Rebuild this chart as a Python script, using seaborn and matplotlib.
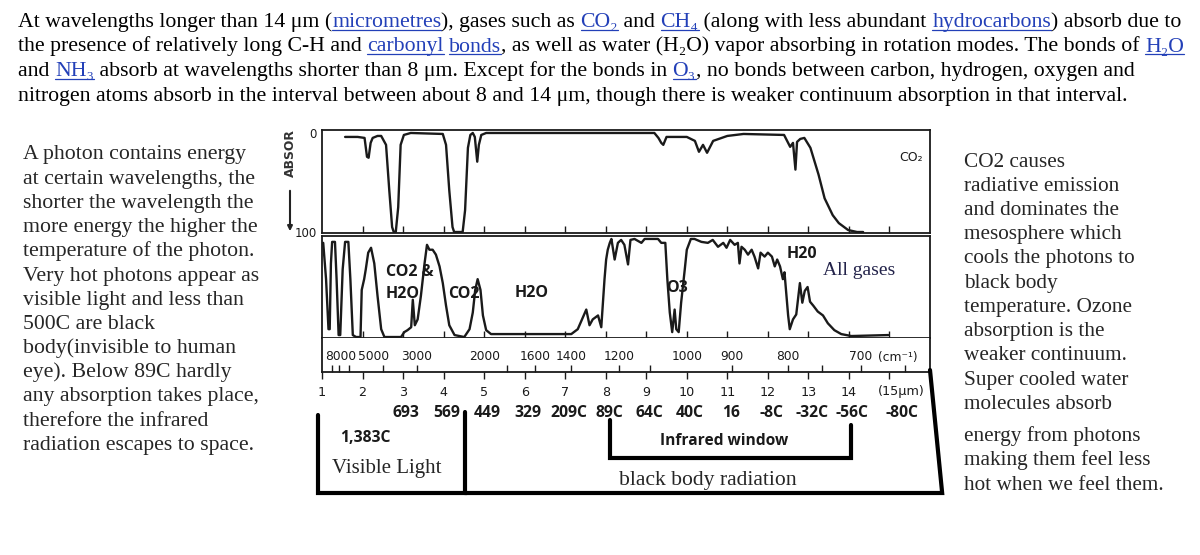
import matplotlib
matplotlib.use('Agg')
import matplotlib.pyplot as plt
import matplotlib.transforms as mtransforms
import seaborn as sns

# ---- values ---- #
# upper panel: CO2 absorption (%), wavelength in micrometres
co2_um = [1.57, 1.88, 2.05, 2.11, 2.15, 2.20, 2.25, 2.37, 2.46, 2.58, 2.66, 2.73, 2.77, 2.82, 2.88,
          2.94, 3.02, 3.19, 3.98, 4.06, 4.14, 4.22, 4.26, 4.47, 4.53, 4.60, 4.66, 4.72, 4.77, 4.83,
          4.87, 4.93, 5.05, 9.20, 9.30, 9.37, 9.42, 9.50, 10.0, 10.2, 10.3, 10.4, 10.5, 10.65, 11.0,
          11.4, 12.4, 12.55, 12.62, 12.68, 12.72, 12.8, 12.9, 13.05, 13.25, 13.4, 13.6, 13.75, 13.98,
          14.2, 14.35]
co2_abs = [4, 4, 5, 24, 25, 10, 5, 3, 3, 12, 58, 95, 100, 100, 75,
           12, 2, 0, 1, 12, 58, 95, 100, 100, 78, 15, 2, 0, 4, 29,
           12, 2, 0, 0, 5, 10, 12, 4, 4, 8, 19, 12, 20, 8, 3,
           1, 2, 14, 10, 37, 9, 6, 5, 15, 42, 66, 83, 91, 98,
           100, 100]

# lower panel: all gases
gas_um = [1.03, 1.10, 1.16, 1.19, 1.22, 1.25, 1.32, 1.36, 1.41, 1.45, 1.51, 1.57, 1.65, 1.70, 1.76,
          1.84, 1.95, 1.98, 2.04, 2.08, 2.14, 2.21, 2.29, 2.37, 2.46, 2.54, 2.95, 3.03, 3.11, 3.20,
          3.24, 3.29, 3.36, 3.44, 3.53, 3.59, 3.65, 3.73, 3.81, 3.90, 3.98, 4.06, 4.14, 4.27, 4.51,
          4.64, 4.72, 4.78, 4.84, 4.91, 4.97, 5.05, 5.17, 7.15, 7.31, 7.52, 7.60, 7.68, 7.81, 7.89,
          7.97, 8.01, 8.05, 8.10, 8.14, 8.22, 8.30, 8.38, 8.46, 8.55, 8.61, 8.71, 8.88, 8.96, 9.12,
          9.29, 9.37, 9.47, 9.52, 9.58, 9.64, 9.70, 9.74, 9.80, 9.86, 9.95, 10.0, 10.1, 10.19, 10.36,
          10.52, 10.64, 10.77, 10.9, 10.98, 11.07, 11.18, 11.26, 11.30, 11.35, 11.43, 11.51, 11.60,
          11.67, 11.76, 11.82, 11.92, 12.0, 12.1, 12.17, 12.23, 12.3, 12.37, 12.41, 12.46, 12.5,
          12.54, 12.62, 12.7, 12.79, 12.85, 12.91, 12.98, 13.04, 13.12, 13.23, 13.36, 13.48, 13.64,
          13.81, 14.06, 14.97]
gas_abs = [4, 41, 92, 92, 25, 3, 3, 41, 98, 98, 31, 3, 3, 41, 98,
           100, 100, 52, 41, 31, 14, 9, 25, 58, 92, 100, 100, 95, 93, 90,
           62, 88, 82, 58, 25, 6, 11, 11, 16, 28, 45, 68, 88, 98, 100,
           92, 75, 52, 41, 52, 78, 93, 97, 97, 92, 72, 88, 82, 78, 90,
           41, 21, 11, 4, 0, 21, 4, 1, 6, 26, 1, 0, 4, 0, 0,
           0, 4, 4, 41, 75, 95, 72, 92, 95, 65, 31, 11, 0, 0, 3,
           4, 1, 8, 4, 9, 1, 6, 4, 25, 8, 11, 16, 11,
           18, 30, 14, 18, 14, 18, 28, 21, 28, 41, 34, 58, 78,
           92, 82, 77, 45, 65, 53, 49, 64, 68, 74, 78, 86, 93,
           97, 99, 98]

um_ticks = list(range(1, 16))
um_labels = [str(i) for i in range(1, 15)] + ['(15\u00b5m)']
wn_ticks = [8000, 7000, 6000, 5000, 4000, 3000, 2500, 2000, 1800, 1600, 1400, 1200, 1100,
            1000, 900, 800, 750, 700, 650]
wn_labels = [8000, 5000, 3000, 2000, 1600, 1400, 1200, 1000, 900, 800, 700]
temp_um = list(range(3, 16))
temp_labels = ['693', '569', '449', '329', '209C', '89C', '64C', '40C', '16', '-8C', '-32C',
               '-56C', '-80C']

visible_span = [0.9, 4.52]
window_span = [8.1, 14.05]
blackbody_span = [4.52, 16.3]

top_lines = [
    [('At wavelengths longer than 14 \u03bcm (', 0), ('micrometres', 1), ('), gases such as ', 0),
     ('CO\u2082', 1), (' and ', 0), ('CH\u2084', 1), (' (along with less abundant ', 0),
     ('hydrocarbons', 1), (') absorb due to', 0)],
    [('the presence of relatively long C-H and ', 0), ('carbonyl', 1), (' ', 0), ('bonds', 1),
     (', as well as water (H\u2082O) vapor absorbing in rotation modes. The bonds of ', 0),
     ('H\u2082O', 1)],
    [('and ', 0), ('NH\u2083', 1), (' absorb at wavelengths shorter than 8 \u03bcm. Except for the bonds in ', 0),
     ('O\u2083', 1), (', no bonds between carbon, hydrogen, oxygen and', 0)],
    [('nitrogen atoms absorb in the interval between about 8 and 14 \u03bcm, though there is weaker '
      'continuum absorption in that interval.', 0)],
]
left_lines = ['A photon contains energy', 'at certain wavelengths, the', 'shorter the wavelength the',
              'more energy the higher the', 'temperature of the photon.', 'Very hot photons appear as',
              'visible light and less than', '500C are black', 'body(invisible to human',
              'eye). Below 89C hardly', 'any absorption takes place,', 'therefore the infrared',
              'radiation escapes to space.']
right_lines = ['CO2 causes', 'radiative emission', 'and dominates the', 'mesosphere which',
               'cools the photons to', 'black body', 'temperature. Ozone', 'absorption is the',
               'weaker continuum.', 'Super cooled water', 'molecules absorb', 'energy from photons',
               'making them feel less', 'hot when we feel them.']

# ---- style ---- #
sns.set_theme(style='white')
plt.rcParams['font.family'] = ['DejaVu Sans']
SERIF = ['Liberation Serif', 'DejaVu Serif']
BOLD = ['Open Sans', 'DejaVu Sans']
SCAN = ['DejaVu Sans']
INK = '#1a1a1a'
LINK = '#2340b8'
W, H = 1200, 555

fig = plt.figure(figsize=(W / 100, H / 100), dpi=100)
renderer = fig.canvas.get_renderer()


def px_axes(x0, y0, x1, y1):
    return fig.add_axes([x0 / W, 1 - y1 / H, (x1 - x0) / W, (y1 - y0) / H])


# overlay in pixel coordinates (y down) for the free text and brackets
ax_ann = px_axes(0, 0, W, H)
ax_ann.set_xlim(0, W)
ax_ann.set_ylim(H, 0)
ax_ann.set_autoscale_on(False)
ax_ann.axis('off')
ax_ann.set_zorder(10)


def raw_w(s, size, family, weight):
    t = ax_ann.text(0, 0, s, fontsize=size, family=family, weight=weight)
    w = t.get_window_extent(renderer).width
    t.remove()
    return w


def text_w(s, size, family, weight='normal'):
    if not s:
        return 0
    return raw_w(s + '|', size, family, weight) - raw_w('|', size, family, weight)


def fit(s, target, family, weight='normal'):
    return 20 * target / text_w(s, 20, family, weight)


# ---- paragraph at the top, with blue links ---- #
top_size = fit(''.join(s for s, _ in top_lines[0]), 1165, SERIF)
for i, line in enumerate(top_lines):
    base = 27 + i * 24.5
    prefix = ''
    for seg, link in line:
        x = 18 + text_w(prefix, top_size, SERIF)
        col = LINK if link else 'black'
        ax_ann.text(x, base, seg, fontsize=top_size, family=SERIF, color=col, va='baseline')
        if link:
            w = text_w(seg, top_size, SERIF)
            ax_ann.plot([x, x + w], [base + 2.5, base + 2.5], color=LINK, lw=0.9)
        prefix += seg

left_size = fit(left_lines[0], 222, SERIF)
for i, s in enumerate(left_lines):
    ax_ann.text(23, 159.5 + i * 24.2, s, fontsize=left_size, family=SERIF, va='baseline')

right_size = fit(right_lines[-1], 199, SERIF)
right_base = [166.7 + k * 24.2 for k in range(11)] + [441, 465.5, 490]
for s, b in zip(right_lines, right_base):
    ax_ann.text(964, b, s, fontsize=right_size, family=SERIF, va='baseline')

# ---- upper panel: CO2 ---- #
ax_top = px_axes(322, 130, 930, 233)
sns.lineplot(x=co2_um, y=co2_abs, ax=ax_top, color=INK, linewidth=1.7, estimator=None, sort=False)
ax_top.set_xlim(1, 16)
ax_top.set_ylim(101, -3)
ax_top.set_xticks(um_ticks[1:])
ax_top.set_xticklabels([])
ax_top.tick_params(axis='x', direction='in', length=5, width=1, bottom=True, color=INK)
ax_top.set_yticks([0, 100])
ax_top.set_yticklabels(['0', '100'])
ax_top.tick_params(axis='y', length=0, pad=4, labelsize=8.5, labelcolor=INK)
ax_top.text(15.25, 25, 'CO\u2082', fontsize=9, va='center', color=INK)

# ---- lower panel: all gases ---- #
ax_bot = px_axes(322, 236, 930, 338)
sns.lineplot(x=gas_um, y=gas_abs, ax=ax_bot, color=INK, linewidth=1.7, estimator=None, sort=False)
ax_bot.set_xlim(1, 16)
ax_bot.set_ylim(101, -3)
ax_bot.set_xticks(um_ticks[1:])
ax_bot.set_xticklabels([])
ax_bot.set_yticks([])
ax_bot.tick_params(axis='x', direction='in', length=5, width=1, bottom=True, color=INK)

bot_px = mtransforms.blended_transform_factory(ax_bot.transData, ax_ann.transData)
band_size = fit('CO2 &', 48, BOLD, 'bold')
for s, um, b in [('CO2 &', 2.58, 276), ('H2O', 2.58, 298), ('CO2', 4.11, 298),
                 ('H2O', 5.74, 297), ('O3', 9.49, 292), ('H20', 12.46, 258)]:
    ax_ann.text(um, b, s, fontsize=band_size, family=BOLD, weight='bold', color=INK, va='baseline',
                transform=bot_px)
ax_ann.text(823, 275, 'All gases', fontsize=fit('All gases', 72, SERIF), family=SERIF,
            color='#23234a', va='baseline')

# ---- wavenumber / wavelength scale ---- #
ax_sc = px_axes(322, 338, 930, 372)
ax_sc.set_xlim(1, 16)
ax_sc.set_ylim(0, 1)
ax_sc.spines['top'].set_visible(False)
ax_sc.set_yticks([])
ax_sc.set_xticks(um_ticks)
ax_sc.set_xticklabels([])
ax_sc.set_xticks([1e4 / w for w in wn_ticks], minor=True)
ax_sc.tick_params(axis='x', which='major', direction='out', length=5, width=1, bottom=True, color=INK)
ax_sc.tick_params(axis='x', which='minor', direction='in', length=5, width=1, bottom=True, color=INK)

for ax in (ax_top, ax_bot, ax_sc):
    for sp in ax.spines.values():
        sp.set_color(INK)
        sp.set_linewidth(1.3)

scale = mtransforms.blended_transform_factory(ax_sc.transData, ax_ann.transData)
nudge = {8000: 0.2, 5000: 0.27}
for wn in wn_labels:
    ax_ann.text(1e4 / wn + nudge.get(wn, 0), 357, str(wn), fontsize=8.8, family=SCAN,
                color=INK, ha='center', va='center', transform=scale)
ax_ann.text(14.72, 357, '(cm\u207b\u00b9)', fontsize=8.8, family=SCAN, color=INK,
            ha='left', va='center', transform=scale)
for um, lab in zip(um_ticks, um_labels):
    dx = 0.3 if um == 15 else 0
    ax_ann.text(um + dx, 392, lab, fontsize=9.2, family=SCAN, color=INK, ha='center',
                va='center', transform=scale)

temp_size = fit('209C', 37, BOLD, 'bold')
for um, lab in zip(temp_um, temp_labels):
    dx = 0.3 if um == 15 else 0.08
    ax_ann.text(um + dx, 416.7, lab, fontsize=temp_size, family=BOLD, weight='bold', color=INK,
                ha='center', va='baseline', transform=scale)

# ---- brackets ---- #
v0, v1 = visible_span
ax_ann.plot([v0, v0, v1, v1], [415, 493, 493, 412], color='black', lw=3, transform=scale,
            solid_joinstyle='miter')
b0, b1 = blackbody_span
ax_ann.plot([b0, b1, 16.0], [493, 493, 370], color='black', lw=3, transform=scale,
            solid_joinstyle='miter')
w0, w1 = window_span
ax_ann.plot([w0, w0, w1, w1], [420, 458, 458, 425], color='black', lw=3, transform=scale,
            solid_joinstyle='miter')

ax_ann.text(340, 441.7, '1,383C', fontsize=temp_size, family=BOLD, weight='bold', color=INK,
            va='baseline')
ax_ann.text(332, 472.7, 'Visible Light', fontsize=fit('Visible Light', 110, SERIF), family=SERIF,
            va='baseline')
ax_ann.text(724, 445, 'Infrared window', fontsize=fit('Infrared window', 128, BOLD, 'bold'),
            family=BOLD, weight='bold', color=INK, ha='center', va='baseline')
ax_ann.text(619, 485, 'black body radiation', fontsize=fit('black body radiation', 178, SERIF),
            family=SERIF, va='baseline')

# absorption label at the left of the upper panel
ax_ann.text(290, 153, 'ABSOR', rotation=90, ha='center', va='center', family=SCAN, weight='bold',
            fontsize=fit('ABSOR', 48, SCAN, 'bold'), color='#333333')
ax_ann.annotate('', xy=(290, 234), xytext=(290, 188),
                arrowprops=dict(arrowstyle='-|>', color='#222222', lw=1.5, mutation_scale=7))

fig.savefig('out.png', dpi=100)
